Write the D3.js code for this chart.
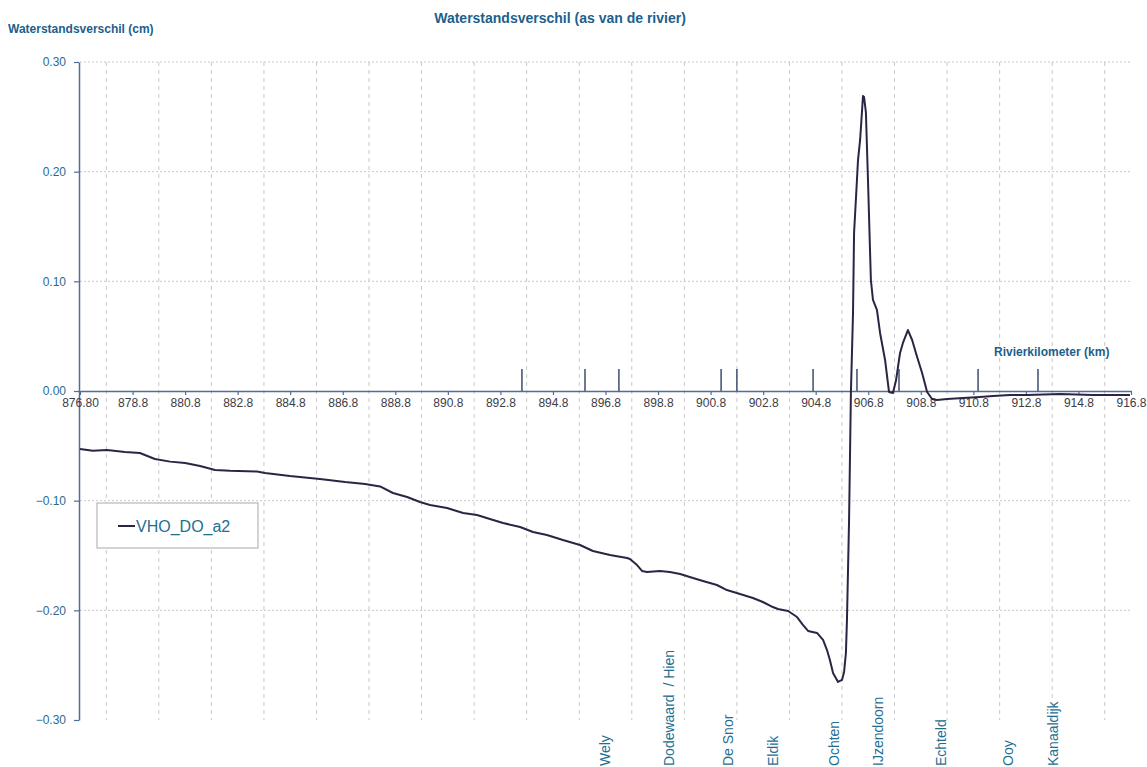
<!DOCTYPE html>
<html>
<head>
<meta charset="utf-8">
<script src="https://cdn.jsdelivr.net/npm/d3@7"></script>
<style>
  html, body { margin: 0; padding: 0; background: #ffffff; }
  svg { display: block; font-family: "Liberation Sans", Arial, sans-serif; }
</style>
</head>
<body>
<svg id="chart" width="1147" height="767"></svg>
<script>
// River kilometre positions of the profile
const riverKm = [
  876.80, 877.29, 877.83, 878.51, 879.08, 879.65, 880.23, 880.80, 881.37, 881.94,
  882.51, 883.54, 883.84, 884.79, 885.93, 886.89, 887.65, 888.22, 888.71, 889.25,
  889.74, 890.12, 890.77, 891.38, 891.91, 892.40, 892.90, 893.55, 894.04, 894.57,
  895.18, 895.83, 896.32, 896.97, 897.62, 897.73, 898.00, 898.19, 898.38, 898.87,
  899.25, 899.64, 900.13, 900.51, 901.04, 901.42, 901.92, 902.41, 902.79, 903.17,
  903.36, 903.75, 904.09, 904.32, 904.51, 904.85, 905.08, 905.23, 905.34, 905.46,
  905.65, 905.80, 905.88, 905.95, 905.99, 906.03, 906.07, 906.14, 906.22, 906.26,
  906.37, 906.41, 906.49, 906.60, 906.64, 906.71, 906.79, 906.90, 906.98, 907.13,
  907.25, 907.44, 907.59, 907.74, 907.86, 908.01, 908.12, 908.31, 908.47, 908.66,
  908.85, 909.04, 909.23, 909.42, 909.80, 910.41, 911.05, 911.55, 912.19, 912.84,
  914.10, 915.35, 916.76
];

// Water level difference VHO_DO_a2 (cm)
const levelDiff = [
  -0.0529, -0.0544, -0.0538, -0.0556, -0.0565, -0.0620, -0.0644, -0.0656, -0.0684, -0.0720,
  -0.0727, -0.0734, -0.0747, -0.0775, -0.0802, -0.0830, -0.0848, -0.0870, -0.0930, -0.0967,
  -0.1012, -0.1040, -0.1067, -0.1112, -0.1131, -0.1167, -0.1204, -0.1240, -0.1286, -0.1313,
  -0.1359, -0.1404, -0.1459, -0.1495, -0.1523, -0.1532, -0.1587, -0.1641, -0.1650, -0.1641,
  -0.1650, -0.1669, -0.1705, -0.1732, -0.1769, -0.1815, -0.1851, -0.1888, -0.1924, -0.1970,
  -0.1988, -0.2006, -0.2061, -0.2134, -0.2188, -0.2206, -0.2270, -0.2362, -0.2453, -0.2571,
  -0.2653, -0.2635, -0.2562, -0.2389, -0.2088, -0.1632, -0.1176, -0.0018, 0.0711, 0.1441,
  0.1924, 0.2106, 0.2289, 0.2690, 0.2681, 0.2544, 0.1924, 0.1012, 0.0830, 0.0739,
  0.0529, 0.0283, -0.0009, -0.0018, 0.0100, 0.0347, 0.0438, 0.0556, 0.0465, 0.0310,
  0.0164, -0.0009, -0.0073, -0.0082, -0.0073, -0.0064, -0.0055, -0.0046, -0.0036, -0.0036,
  -0.0027, -0.0036, -0.0036
];

const seriesName = "VHO_DO_a2";

// Axis ticks
const xTickKm = d3.range(21).map(i => 876.8 + 2 * i);
const xTickLabels = ["876.80", "878.8", "880.8", "882.8", "884.8", "886.8", "888.8", "890.8",
  "892.8", "894.8", "896.8", "898.8", "900.8", "902.8", "904.8", "906.8", "908.8", "910.8",
  "912.8", "914.8", "916.8"];
const xGridKm = d3.range(20).map(i => 877.8 + 2 * i);
const yTicks = [-0.3, -0.2, -0.1, 0, 0.1, 0.2, 0.3];
const yGridValues = [-0.2, -0.1, 0.1, 0.2, 0.3];

// Reference markers along the river (km) and their height
const markerKm = [893.62, 896.02, 897.31, 901.20, 901.80, 904.70, 906.37, 907.97, 910.98, 913.26];
const markerHeight = 0.02;

// Place names along the river
const placeNames = ["Wely", "Dodewaard  / Hien", "De Snor", "Eldik", "Ochten", "IJzendoorn", "Echteld", "Ooy", "Kanaaldijk"];
const placeKm = [896.78, 899.22, 901.46, 903.17, 905.50, 907.17, 909.57, 912.12, 913.83];

const svg = d3.select("#chart");

const x = d3.scaleLinear().domain([876.8, 916.8]).range([80, 1131]);
const y = d3.scaleLinear().domain([-0.3, 0.3]).range([720, 62]);

const gridColor = "#c9c9c9";
const axisColor = "#4f6d9c";
const labelBlue = "#2a6a93";
const titleBlue = "#1d5f8c";

// Grid
const grid = svg.append("g");
grid.selectAll("line.vg").data(xGridKm).join("line")
  .attr("class", "vg")
  .attr("x1", d => x(d)).attr("x2", d => x(d))
  .attr("y1", y(0.3)).attr("y2", y(-0.3))
  .attr("stroke", gridColor).attr("stroke-width", 1)
  .attr("stroke-dasharray", "4,4");
grid.selectAll("line.hg").data(yGridValues).join("line")
  .attr("class", "hg")
  .attr("x1", x(876.8)).attr("x2", x(916.8))
  .attr("y1", d => y(d)).attr("y2", d => y(d))
  .attr("stroke", gridColor).attr("stroke-width", 1)
  .attr("stroke-dasharray", "2,2");

// Y axis
const yAxis = svg.append("g")
  .attr("transform", `translate(${x(876.8) - 1},0)`)
  .call(d3.axisLeft(y).tickValues(yTicks).tickFormat(d3.format(".2f")).tickSizeInner(5).tickSizeOuter(0).tickPadding(8));
yAxis.select(".domain").attr("stroke", axisColor).attr("stroke-width", 1.5);
yAxis.selectAll(".tick line").attr("stroke", axisColor).attr("stroke-width", 1.2);
yAxis.selectAll(".tick text").attr("fill", labelBlue).attr("font-size", 12)
  .attr("font-family", "Liberation Sans, Arial, sans-serif");

// X axis along the zero line
const xAxis = svg.append("g")
  .attr("transform", `translate(0,${y(0)})`)
  .call(d3.axisBottom(x).tickValues(xTickKm).tickFormat((d, i) => xTickLabels[i]).tickSizeInner(4).tickSizeOuter(0).tickPadding(3));
xAxis.select(".domain").attr("stroke", axisColor).attr("stroke-width", 1.5);
xAxis.selectAll(".tick line").attr("stroke", axisColor).attr("stroke-width", 1.2);
xAxis.selectAll(".tick text").attr("fill", "#3c3c46").attr("font-size", 12)
  .attr("font-family", "Liberation Sans, Arial, sans-serif");

// Location markers above the axis
svg.append("g").selectAll("line").data(markerKm).join("line")
  .attr("x1", d => x(d)).attr("x2", d => x(d))
  .attr("y1", y(0)).attr("y2", y(markerHeight))
  .attr("stroke", "#4a5878").attr("stroke-width", 1.6);

// Profile line
const line = d3.line()
  .x((d, i) => x(riverKm[i]))
  .y(d => y(d));
svg.append("path")
  .datum(levelDiff)
  .attr("d", line)
  .attr("fill", "none")
  .attr("stroke", "#2d2444")
  .attr("stroke-width", 2)
  .attr("stroke-linejoin", "round");

// Place names
svg.append("g").selectAll("text").data(placeNames).join("text")
  .attr("transform", (d, i) => `translate(${x(placeKm[i])},766) rotate(-90)`)
  .attr("dy", "0.35em")
  .attr("text-anchor", "start")
  .attr("font-size", 14)
  .attr("fill", "#1e6e92")
  .style("white-space", "pre")
  .text(d => d);

// Titles
svg.append("text")
  .attr("x", 560).attr("y", 23)
  .attr("text-anchor", "middle")
  .attr("font-size", 14).attr("font-weight", "bold")
  .attr("fill", titleBlue)
  .text("Waterstandsverschil (as van de rivier)");
svg.append("text")
  .attr("x", 8).attr("y", 33)
  .attr("font-size", 12).attr("font-weight", "bold")
  .attr("fill", titleBlue)
  .text("Waterstandsverschil (cm)");
svg.append("text")
  .attr("x", 994).attr("y", 356)
  .attr("font-size", 12).attr("font-weight", "bold")
  .attr("fill", titleBlue)
  .text("Rivierkilometer (km)");

// Legend
const legend = svg.append("g");
legend.append("rect")
  .attr("x", 97).attr("y", 503).attr("width", 161).attr("height", 45)
  .attr("fill", "#ffffff").attr("stroke", "#a8a8a8").attr("stroke-width", 1);
legend.append("line")
  .attr("x1", 118).attr("x2", 135).attr("y1", 526).attr("y2", 526)
  .attr("stroke", "#2d2444").attr("stroke-width", 2);
legend.append("text")
  .attr("x", 136).attr("y", 532)
  .attr("font-size", 16)
  .attr("fill", "#1e6e92")
  .text(seriesName);
</script>
</body>
</html>
